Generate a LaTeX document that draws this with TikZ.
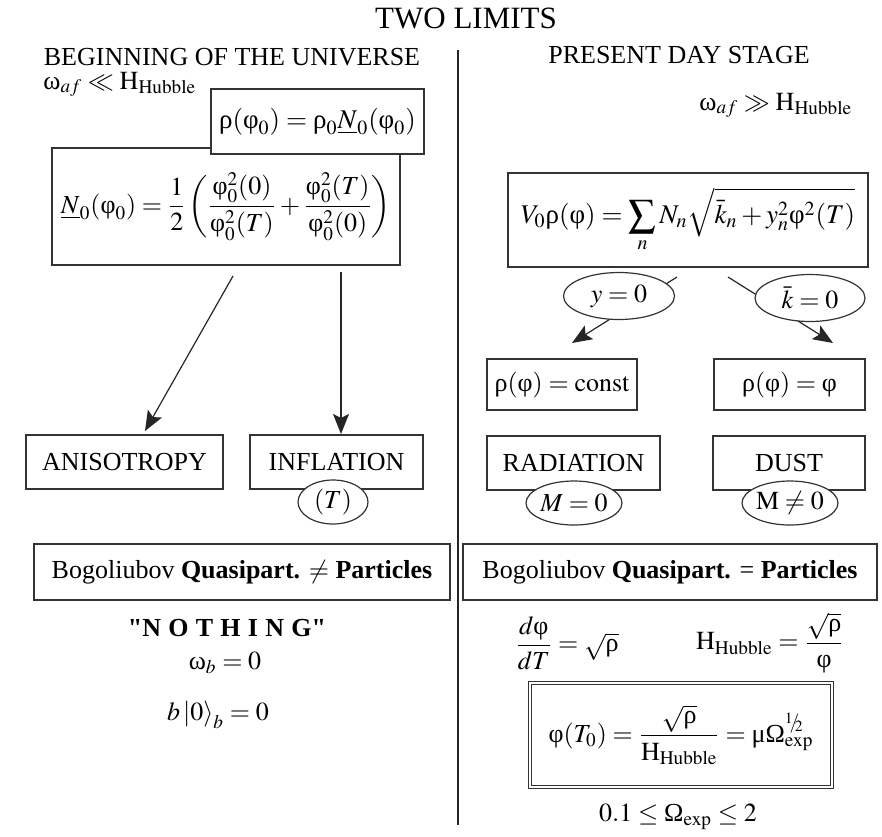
\documentclass[tikz,border=0pt]{standalone}
\usepackage{amsmath}
\usepackage{mathptmx}
\usepackage{fontspec}
\setmainfont{Liberation Serif}
\newfontfamily\qfont{Liberation Serif}
\usetikzlibrary{shapes.geometric,arrows.meta}
\newcommand\gr[1]{\text{#1}}
\newcommand\halfexp{{\raisebox{0.45ex}{$\scriptscriptstyle 1$}\mkern-3mu/\mkern-4mu\raisebox{-0.25ex}{$\scriptscriptstyle 2$}}}
\newcommand\lsp{\hspace{0.28em}}
\begin{document}
\begin{tikzpicture}[x=0.5pt,y=-0.5pt,
  every node/.style={font=\fontsize{13}{15}\selectfont, inner sep=0pt},
  box/.style={draw=black!80, line width=0.6pt, fill=white, rectangle},
  oval/.style={draw=black!80, line width=0.6pt, fill=white, ellipse},
  arr/.style={draw=black!85, line width=0.6pt, -{Stealth[length=10pt,width=8pt,inset=2pt]}},
  divider/.style={draw=black!85, line width=0.8pt}]
\useasboundingbox (0,0) rectangle (882,836);
% headings
\node[font=\fontsize{15.5}{18}\selectfont] (title) at (466,18) {TWO LIMITS};
\node (hl) at (232,57) {BEGINNING OF THE UNIVERSE};
\node (hr) at (679,55) {PRESENT DAY STAGE};
\coordinate (dtop) at (458,50);
\coordinate (dbot) at (458,825);
\draw[divider] (dtop) -- (dbot);
\node[anchor=base west] (wl) at (43,89) {$\gr{ω}_{af} \ll \mathrm{H}_{\mathrm{Hubble}}$};
\node[anchor=base west] (wr) at (699,110) {$\gr{ω}_{af} \gg \mathrm{H}_{\mathrm{Hubble}}$};
% left column
\node[box, minimum width=174pt, minimum height=58.5pt] (nbox) at (226,206.5)
  {$\underline{N}_0(\gr{φ}_0) = \dfrac12\left(\dfrac{\gr{φ}_0^2(0)}{\gr{φ}_0^2(T)} + \dfrac{\gr{φ}_0^2(T)}{\gr{φ}_0^2(0)}\right)$};
\node[box, minimum width=106.5pt, minimum height=32.5pt, font=\fontsize{13.5}{15}\selectfont] (rbox) at (317.5,121.5)
  {$\gr{ρ}(\gr{φ}_0) = \gr{ρ}_0\underline{N}_0(\gr{φ}_0)$};
\coordinate (a1s) at (233,276);
\coordinate (a1e) at (145,431);
\coordinate (a2s) at (341,272);
\coordinate (a2e) at (341,434);
\draw[arr] (a1s) -- (a1e);
\draw[arr] (a2s) -- (a2e);
\node[box, minimum width=98.5pt, minimum height=27pt] (aniso) at (124.5,462) {ANISOTROPY};
\node[box, minimum width=86.5pt, minimum height=27pt] (infl) at (336.5,462) {INFLATION};
\node[oval, minimum width=35pt, minimum height=22pt] (tell) at (333,502) {$(T)$};
% right column
\node[box, minimum width=180pt, minimum height=47pt, font=\fontsize{13.5}{15}\selectfont] (vbox) at (688,220)
  {$V_0\gr{ρ}(\gr{φ}) = \displaystyle\sum_n N_n\sqrt{\bar{k}_n + y_n^2\gr{φ}^2(T)}$};
\coordinate (l1s) at (677,277);
\coordinate (l1e) at (572,343);
\coordinate (l2s) at (728,277);
\coordinate (l2e) at (833,343);
\draw[arr] (l1s) -- (l1e);
\draw[arr] (l2s) -- (l2e);
\node[oval, minimum width=55.5pt, minimum height=23.5pt] (yell) at (619,296) {$y=0$};
\node[oval, minimum width=55pt, minimum height=23.5pt] (kell) at (810,298) {$\bar{k}=0$};
\node[box, minimum width=75pt, minimum height=25.5pt] (rc) at (562,384.5) {$\gr{ρ}(\gr{φ}) = \mathrm{const}$};
\node[box, minimum width=75.5pt, minimum height=25.5pt] (rp) at (789.5,384.5) {$\gr{ρ}(\gr{φ}) = \gr{φ}$};
\node[box, minimum width=86.5pt, minimum height=27pt] (rad) at (573.5,463) {RADIATION};
\node[box, minimum width=76pt, minimum height=27pt] (dust) at (789,463) {DUST};
\node[oval, minimum width=48pt, minimum height=22pt] (m0) at (574,503) {$M=0$};
\node[oval, minimum width=47.5pt, minimum height=22pt] (m1) at (790,503) {$\mathrm{M}\neq 0$};
% bottom
\node[box, minimum width=208pt, minimum height=28pt] (bl) at (242,572)
  {Bogoliubov \textbf{Quasipart.} $\neq$\ \textbf{Particles}};
\node[box, minimum width=207pt, minimum height=28pt] (br) at (670,572)
  {Bogoliubov \textbf{Quasipart.} =\ \textbf{Particles}};
\node[font=\qfont\bfseries\fontsize{13}{15}\selectfont] (noth) at (227,628)
  {"N\lsp O\lsp T\lsp H\lsp I\lsp N\lsp G"};
\node (wb) at (225,663) {$\gr{ω}_b = 0$};
\node (b0) at (218,715) {$b\left|0\right\rangle_b = 0$};
\node (dphi) at (567,643) {$\dfrac{d\gr{φ}}{dT} = \sqrt{\gr{ρ}}$};
\node (hh) at (770,643) {$\mathrm{H}_{\mathrm{Hubble}} = \dfrac{\sqrt{\gr{ρ}}}{\gr{φ}}$};
\node[box, double, double distance=1.2pt, minimum width=151pt, minimum height=52pt] (fin) at (681,735)
  {$\gr{φ}(T_0) = \dfrac{\sqrt{\gr{ρ}}}{\mathrm{H}_{\mathrm{Hubble}}} = \gr{μ}\gr{Ω}^{\halfexp}_{\mathrm{exp}}$};
\node (om) at (678,817) {$0.1 \leq \gr{Ω}_{\mathrm{exp}} \leq 2$};
\end{tikzpicture}
\end{document}
